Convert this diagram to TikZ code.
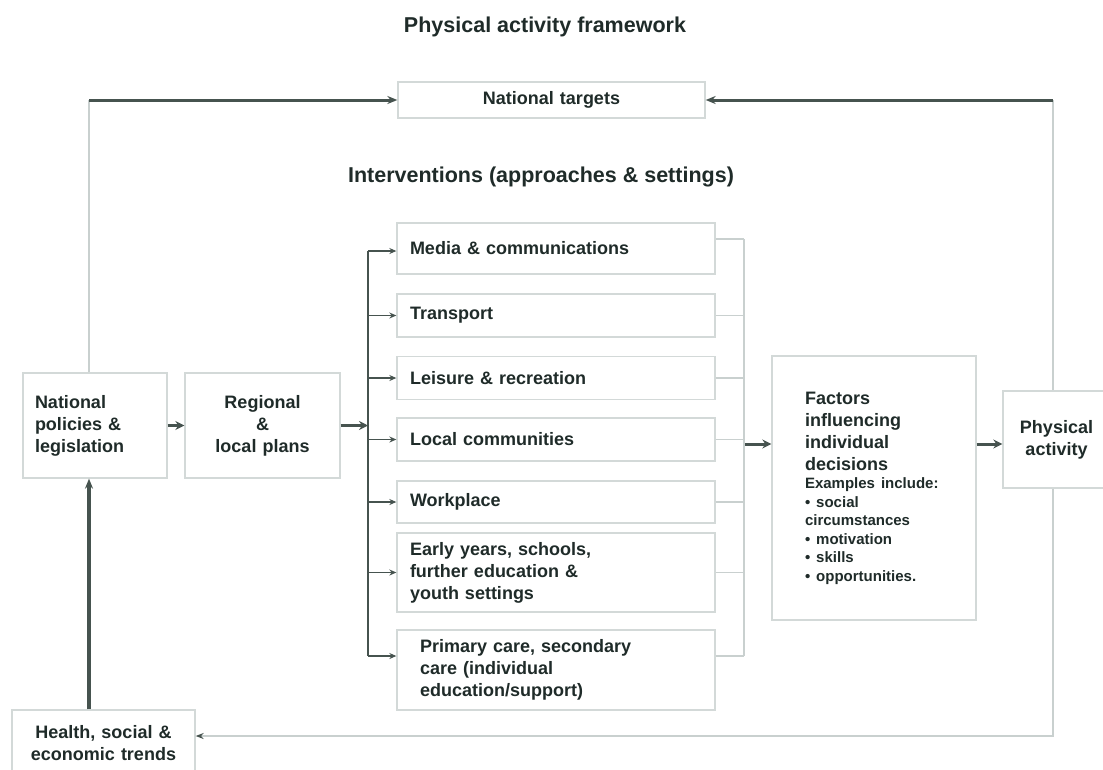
\documentclass[tikz,border=0pt]{standalone}
\usepackage{fontspec}
\setmainfont{Liberation Sans}
\usetikzlibrary{arrows.meta, positioning}

\definecolor{txtcol}{HTML}{1F2B29}
\definecolor{boxcol}{HTML}{D3D9D8}
\definecolor{darkline}{HTML}{46534F}
\definecolor{lightline}{HTML}{C9D0CF}

\newcommand{\boxfont}{\fontsize{18}{22}\selectfont\bfseries}
\newcommand{\headfont}{\fontsize{21.5}{26}\selectfont\bfseries}
\newcommand{\notefont}{\fontsize{15}{18.5}\selectfont\bfseries}

\begin{document}
\begin{tikzpicture}[x=1pt, y=-1pt,
    box/.style={draw=boxcol, line width=1.3pt, text=txtcol, font=\boxfont, inner xsep=13pt, inner ysep=0pt},
    fatarrow/.style={draw=darkline, line width=3pt, -{Stealth[length=9pt, width=9pt]}},
    stubarrow/.style={draw=darkline, line width=1.8pt, -{Stealth[length=7pt, width=6pt]}},
    longarrow/.style={draw=darkline, line width=3pt, -{Stealth[length=10pt, width=8pt]}},
    thinline/.style={draw=lightline, line width=1.5pt},
    busline/.style={draw=darkline, line width=1.5pt}]
    \path[use as bounding box, fill=white] (0,0) rectangle (1103,769);

    \node[anchor=base, text=txtcol, font=\headfont] (title) at (545,32) {Physical activity framework};
    \node[box, align=center, text width=281pt, minimum height=36pt] (targets) at (551.5,100) {National targets};
    \node[anchor=base, text=txtcol, font=\headfont] (interv) at (541,182) {Interventions (approaches \& settings)};

    \node[box, align=left, inner xsep=12pt, text width=120pt, minimum height=105pt] (policies) at (95,425.5) {National\\policies \&\\legislation};
    \node[box, align=center, text width=129pt, minimum height=105pt] (regional) at (262.5,425.5) {Regional\\\&\\local plans};

    \node[box, align=left, text width=292pt, minimum height=51pt] (media) at (556,248.5) {Media \& communications};
    \node[box, align=left, text width=292pt, minimum height=43pt] (transport) at (556,315.5) {Transport};
    \node[box, align=left, text width=292pt, minimum height=43pt] (leisure) at (556,378) {Leisure \& recreation};
    \node[box, align=left, text width=292pt, minimum height=43pt] (local) at (556,439.5) {Local communities};
    \node[box, align=left, text width=292pt, minimum height=42pt] (workplace) at (556,502) {Workplace};
    \node[box, align=left, text width=292pt, minimum height=79pt] (early) at (556,572.5) {Early years, schools,\\further education \&\\youth settings};
    \node[box, align=left, inner xsep=23pt, text width=272pt, minimum height=80pt] (primary) at (556,670) {Primary care, secondary\\care (individual\\education/support)};

    \node[box, align=left, inner xsep=33pt, text width=138pt, minimum height=264pt] (factors) at (874,488) {Factors\\influencing\\individual\\decisions\par
        {\notefont Examples include:\\•~social\\circumstances\\•~motivation\\•~skills\\•~opportunities.\par}};
    \node[box, align=center, text width=81pt, minimum height=97pt] (physical) at (1056.5,439.5) {Physical\\activity};
    \node[box, align=center, text width=157pt, minimum height=66pt] (health) at (103.5,743) {Health, social \&\\economic trends};

    % corners and buses
    \coordinate (tl) at (89,100);
    \coordinate (tr) at (1053,100);
    \coordinate (br) at (1053,736);
    \coordinate (lbus) at (368,0);
    \coordinate (rbus) at (744,444);
    \coordinate (mediain) at ([yshift=-2.5pt]media.west);
    \coordinate (mediaout) at ([yshift=9.5pt]media.east);
    \coordinate (primin) at ([yshift=14pt]primary.west);
    \coordinate (primout) at ([yshift=14pt]primary.east);

    % outer loop
    \draw[thinline] (policies.north -| tl) -- (tl);
    \draw[longarrow] (tl) -- (targets.west);
    \draw[thinline] (physical.north -| tr) -- (tr);
    \draw[longarrow] (tr) -- (targets.east);
    \draw[thinline, -{Stealth[length=8pt, width=6pt, color=darkline]}] (physical.south -| br) -- (br) -- (br -| health.east);
    \draw[longarrow, line width=3.5pt] (health.north -| tl) -- (policies.south -| tl);

    % main chain
    \draw[fatarrow] (policies.east) -- (regional.west);
    \draw[fatarrow] (regional.east) -- (regional.east -| lbus);
    \draw[fatarrow] (rbus) -- (rbus -| factors.west);
    \draw[fatarrow] (rbus -| factors.east) -- (rbus -| physical.west);

    % left bus
    \draw[busline] (mediain -| lbus) -- (primin -| lbus);
    \draw[stubarrow] (mediain -| lbus) -- (mediain);
    \draw[stubarrow] (transport.west -| lbus) -- (transport.west);
    \draw[stubarrow] (leisure.west -| lbus) -- (leisure.west);
    \draw[stubarrow] (local.west -| lbus) -- (local.west);
    \draw[stubarrow] (workplace.west -| lbus) -- (workplace.west);
    \draw[stubarrow] (early.west -| lbus) -- (early.west);
    \draw[stubarrow] (primin -| lbus) -- (primin);

    % right bus
    \draw[thinline] (mediaout -| rbus) -- (primout -| rbus);
    \draw[thinline] (mediaout) -- (mediaout -| rbus);
    \draw[thinline] (transport.east) -- (transport.east -| rbus);
    \draw[thinline] (leisure.east) -- (leisure.east -| rbus);
    \draw[thinline] (local.east) -- (local.east -| rbus);
    \draw[thinline] (workplace.east) -- (workplace.east -| rbus);
    \draw[thinline] (early.east) -- (early.east -| rbus);
    \draw[thinline] (primout) -- (primout -| rbus);
\end{tikzpicture}
\end{document}
